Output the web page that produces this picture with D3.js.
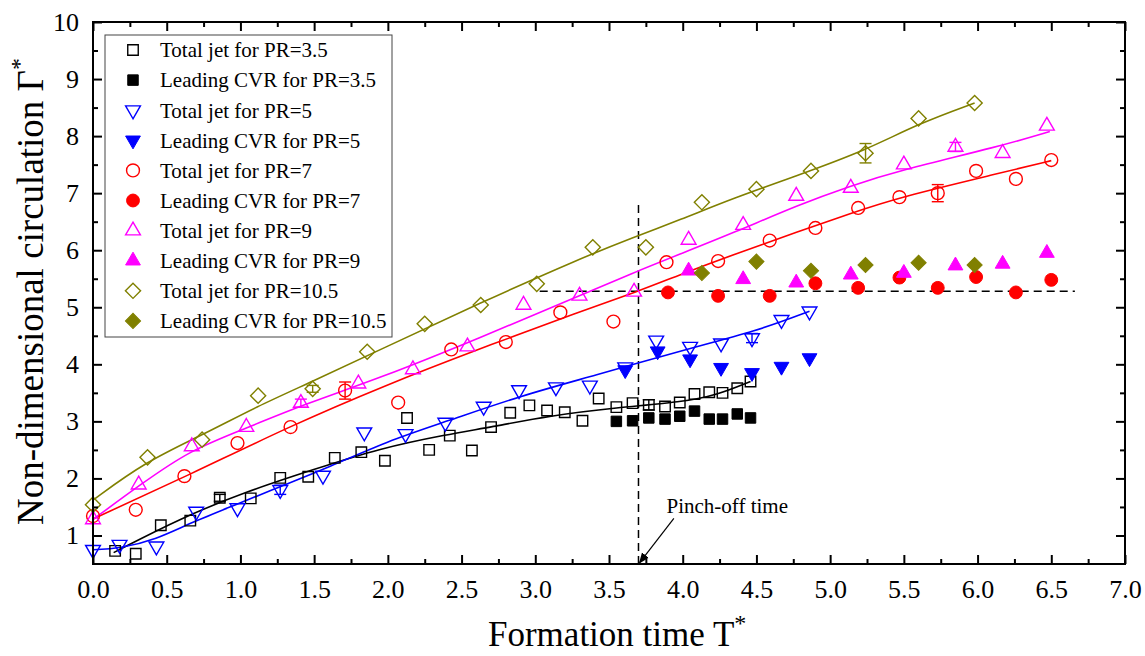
<!DOCTYPE html>
<html>
<head>
<meta charset="utf-8">
<script src="https://cdn.jsdelivr.net/npm/d3@7"></script>
<style>
body { margin: 0; background: #fff; }
text { font-family: "Liberation Serif", "Times New Roman", serif; fill: #000; }
</style>
</head>
<body>
<svg id="chart" width="1145" height="656"></svg>
<script>
// ---- data ----
var xTicks = [0, 0.5, 1, 1.5, 2, 2.5, 3, 3.5, 4, 4.5, 5, 5.5, 6, 6.5, 7];
var yTicks = [1, 2, 3, 4, 5, 6, 7, 8, 9, 10];

var total35 = [[0.15,0.73],[0.29,0.68],[0.46,1.18],[0.66,1.26],[0.86,1.66],[1.07,1.65],[1.27,2.01],[1.46,2.03],
  [1.64,2.36],[1.82,2.46],[1.98,2.31],[2.13,3.06],[2.28,2.50],[2.42,2.75],[2.57,2.49],[2.70,2.90],[2.83,3.15],
  [2.96,3.28],[3.08,3.19],[3.20,3.16],[3.32,3.01],[3.43,3.40],[3.55,3.25],[3.66,3.32],[3.77,3.29],[3.88,3.26],
  [3.98,3.33],[4.08,3.48],[4.18,3.51],[4.27,3.50],[4.37,3.58],[4.46,3.70]];
var lead35 = [[3.55,3.00],[3.66,3.01],[3.77,3.06],[3.88,3.04],[3.98,3.09],[4.08,3.18],[4.18,3.04],[4.27,3.04],[4.37,3.13],[4.46,3.06]];
var fit35 = [[0.14,0.70],[0.6,1.31],[1.04,1.77],[1.49,2.15],[1.95,2.53],[2.40,2.77],[2.70,2.90],[3.10,3.10],[3.55,3.24],[4.0,3.34],[4.23,3.46],[4.46,3.70]];

var total5 = [[0.0,0.75],[0.18,0.84],[0.43,0.81],[0.70,1.42],[0.98,1.48],[1.27,1.80],[1.56,2.05],[1.84,2.81],
  [2.12,2.78],[2.39,2.98],[2.65,3.26],[2.89,3.55],[3.14,3.60],[3.37,3.63],[3.61,3.95],[3.82,4.42],[4.05,4.31],
  [4.26,4.37],[4.47,4.46],[4.67,4.78],[4.86,4.93]];
var lead5 = [[3.61,3.90],[3.83,4.23],[4.05,4.09],[4.26,3.94],[4.47,3.85],[4.67,3.96],[4.86,4.11]];
var fit5 = [[0,0.75],[0.18,0.77],[0.43,0.93],[0.66,1.22],[1.0,1.57],[1.27,1.86],[1.56,2.15],[2.0,2.66],[2.4,3.00],[2.9,3.45],[3.4,3.80],[4.0,4.25],[4.5,4.58],[4.86,4.93]];

var total7 = [[0.0,1.34],[0.29,1.45],[0.62,2.04],[0.98,2.62],[1.34,2.90],[1.71,3.54],[2.07,3.33],[2.43,4.26],
  [2.80,4.39],[3.17,4.91],[3.53,4.75],[3.89,5.79],[4.24,5.81],[4.59,6.17],[4.90,6.39],[5.19,6.74],[5.47,6.93],
  [5.73,7.00],[5.99,7.39],[6.26,7.25],[6.50,7.58]];
var lead7 = [[3.90,5.26],[4.24,5.20],[4.59,5.20],[4.90,5.42],[5.19,5.34],[5.47,5.52],[5.73,5.34],[5.99,5.53],[6.26,5.26],[6.50,5.48]];
var fit7 = [[0,1.29],[0.66,2.07],[1.33,2.91],[1.98,3.63],[2.62,4.27],[3.30,4.92],[3.70,5.28],[3.98,5.57],[4.34,5.92],[4.79,6.33],[5.13,6.64],[5.47,6.93],[6.15,7.35],[6.50,7.57]];

var total9 = [[0.0,1.28],[0.31,1.89],[0.67,2.56],[1.04,2.90],[1.41,3.32],[1.80,3.66],[2.17,3.91],[2.54,4.31],
  [2.92,5.04],[3.30,5.20],[3.67,5.27],[4.04,6.18],[4.41,6.44],[4.77,6.95],[5.14,7.09],[5.50,7.50],[5.85,7.81],
  [6.17,7.70],[6.47,8.18]];
var lead9 = [[4.04,5.64],[4.41,5.49],[4.77,5.43],[5.14,5.57],[5.50,5.60],[5.85,5.73],[6.17,5.76],[6.47,5.95]];
var fit9 = [[0,1.28],[0.32,1.89],[0.66,2.50],[1.04,2.88],[1.42,3.29],[1.95,3.76],[2.62,4.46],[3.30,5.20],[3.66,5.60],[3.98,5.93],[4.34,6.30],[4.79,6.80],[5.13,7.12],[5.47,7.40],[6.15,7.82],[6.49,8.08]];

var total105 = [[0.0,1.54],[0.37,2.37],[0.74,2.68],[1.12,3.45],[1.49,3.57],[1.86,4.22],[2.25,4.71],[2.63,5.04],
  [3.01,5.41],[3.39,6.05],[3.75,6.05],[4.13,6.84],[4.50,7.07],[4.87,7.39],[5.24,7.70],[5.60,8.31],[5.98,8.58]];
var lead105 = [[4.13,5.60],[4.50,5.80],[4.87,5.64],[5.24,5.74],[5.60,5.78],[5.98,5.74]];
var fit105 = [[0,1.62],[0.36,2.30],[0.75,2.77],[1.11,3.26],[1.49,3.70],[1.95,4.26],[2.62,5.07],[3.30,5.85],[3.66,6.22],[3.98,6.53],[4.34,6.91],[4.79,7.32],[5.24,7.75],[5.60,8.22],[5.98,8.58]];

// error bars: [series, x, y, half-length]
var errBars = [[0,0.86,1.66,0.06],[0,3.77,3.29,0.09],[1,1.27,1.80,0.08],[1,4.47,4.46,0.08],[2,1.71,3.54,0.15],
  [2,5.73,7.00,0.15],[3,1.41,3.32,0.07],[3,5.85,7.81,0.08],[4,1.49,3.57,0.06],[4,5.24,7.70,0.17]];

var pinchX = 3.70, pinchTop = 6.82;
var plateauY = 5.28, plateauFrom = 3.03, plateauTo = 6.66;

var colors = ["#000000", "#0000ff", "#ff0000", "#ff00ff", "#808000"];
var prLabels = ["3.5", "5", "7", "9", "10.5"];
var shapes = ["square", "tridown", "circle", "triup", "diamond"];
var totals = [total35, total5, total7, total9, total105];
var leads = [lead35, lead5, lead7, lead9, lead105];
var fits = [fit35, fit5, fit7, fit9, fit105];

// ---- layout ----
var svg = d3.select("#chart");
var margin = {left: 93, top: 22, right: 20, bottom: 92};
var W = 1145 - margin.left - margin.right, H = 656 - margin.top - margin.bottom;
var x = d3.scaleLinear().domain([0, 7]).range([0, W]);
var y = d3.scaleLinear().domain([0.5, 10]).range([H, 0]);
var g = svg.append("g").attr("transform", "translate(" + margin.left + "," + margin.top + ")");

function symbolPath(shape) {
  if (shape == "square") return d3.symbol(d3.symbolSquare, 110)();
  if (shape == "circle") return d3.symbol(d3.symbolCircle, 130)();
  if (shape == "diamond") return d3.symbol(d3.symbolSquare, 115)();
  return d3.symbol(d3.symbolTriangle, 95)();
}
function symbolRot(shape) {
  if (shape == "tridown") return 180;
  if (shape == "diamond") return 45;
  return 0;
}
function drawMarker(sel, shape, color, filled) {
  sel.append("path")
    .attr("d", symbolPath(shape))
    .attr("transform", function(d) {
      return "translate(" + x(d[0]) + "," + y(d[1]) + ") rotate(" + symbolRot(shape) + ")";
    })
    .attr("fill", filled ? color : "none")
    .attr("stroke", color)
    .attr("stroke-width", filled ? 1 : 1.4);
}

// dashed guide lines
g.append("line").attr("x1", x(pinchX)).attr("x2", x(pinchX)).attr("y1", y(0.5)).attr("y2", y(pinchTop))
  .attr("stroke", "#000").attr("stroke-width", 1.5).attr("stroke-dasharray", "8,5");
g.append("line").attr("x1", x(plateauFrom)).attr("x2", x(plateauTo)).attr("y1", y(plateauY)).attr("y2", y(plateauY))
  .attr("stroke", "#000").attr("stroke-width", 1.5).attr("stroke-dasharray", "8,5");

// fit curves
var line = d3.line().x(function(d) { return x(d[0]); }).y(function(d) { return y(d[1]); }).curve(d3.curveBasis);
fits.forEach(function(f, i) {
  g.append("path").datum(f).attr("d", line).attr("fill", "none").attr("stroke", colors[i]).attr("stroke-width", 1.6);
});

// error bars
errBars.forEach(function(e) {
  var c = colors[e[0]], cx = x(e[1]);
  var eg = g.append("g").attr("stroke", c).attr("stroke-width", 1.4);
  eg.append("line").attr("x1", cx).attr("x2", cx).attr("y1", y(e[2] - e[3])).attr("y2", y(e[2] + e[3]));
  eg.append("line").attr("x1", cx - 6).attr("x2", cx + 6).attr("y1", y(e[2] - e[3])).attr("y2", y(e[2] - e[3]));
  eg.append("line").attr("x1", cx - 6).attr("x2", cx + 6).attr("y1", y(e[2] + e[3])).attr("y2", y(e[2] + e[3]));
});

// markers
totals.forEach(function(arr, i) {
  drawMarker(g.append("g").selectAll("path").data(arr).enter(), shapes[i], colors[i], false);
});
leads.forEach(function(arr, i) {
  drawMarker(g.append("g").selectAll("path").data(arr).enter(), shapes[i], colors[i], true);
});

// axes with inward ticks
var xMinor = d3.range(0.25, 7, 0.5);
var yMinor = d3.range(1.5, 10, 1);
function tickStyle(a) { a.select(".domain").remove(); a.selectAll("line").attr("stroke", "#000").attr("stroke-width", 2); }

var xb = g.append("g").attr("transform", "translate(0," + H + ")")
  .call(d3.axisBottom(x).tickValues(xTicks).tickSize(-9).tickPadding(16).tickFormat(d3.format(".1f")));
xb.call(tickStyle); xb.selectAll("text").attr("font-size", 26).attr("dy", "0.71em");
g.append("g").attr("transform", "translate(0," + H + ")")
  .call(d3.axisBottom(x).tickValues(xMinor).tickSize(-5).tickFormat("")).call(tickStyle);
g.append("g").call(d3.axisTop(x).tickValues(xTicks).tickSize(-9).tickFormat("")).call(tickStyle);
g.append("g").call(d3.axisTop(x).tickValues(xMinor).tickSize(-5).tickFormat("")).call(tickStyle);

var yl = g.append("g").call(d3.axisLeft(y).tickValues(yTicks).tickSize(-9).tickPadding(14).tickFormat(d3.format("d")));
yl.call(tickStyle); yl.selectAll("text").attr("font-size", 26);
g.append("g").call(d3.axisLeft(y).tickValues(yMinor).tickSize(-5).tickFormat("")).call(tickStyle);
g.append("g").attr("transform", "translate(" + W + ",0)")
  .call(d3.axisRight(y).tickValues(yTicks).tickSize(-9).tickFormat("")).call(tickStyle);
g.append("g").attr("transform", "translate(" + W + ",0)")
  .call(d3.axisRight(y).tickValues(yMinor).tickSize(-5).tickFormat("")).call(tickStyle);

g.append("rect").attr("width", W).attr("height", H).attr("fill", "none").attr("stroke", "#000").attr("stroke-width", 2);

// pinch-off annotation
svg.append("defs").append("marker").attr("id", "arrow").attr("viewBox", "0 0 10 10")
  .attr("refX", 9).attr("refY", 5).attr("markerWidth", 9).attr("markerHeight", 9).attr("orient", "auto")
  .append("path").attr("d", "M0,1L10,5L0,9z").attr("fill", "#000");
g.append("line").attr("x1", x(3.94)).attr("y1", y(1.30)).attr("x2", x(pinchX) + 1).attr("y2", y(0.52))
  .attr("stroke", "#000").attr("stroke-width", 1.2).attr("marker-end", "url(#arrow)");
g.append("text").attr("x", x(3.89)).attr("y", y(1.40)).attr("font-size", 21).text("Pinch-off time");

// legend
var lg = g.append("g").attr("transform", "translate(12,13)");
lg.append("rect").attr("width", 287).attr("height", 302).attr("fill", "#fff").attr("stroke", "#444").attr("stroke-width", 1);
var legendRows = [];
prLabels.forEach(function(p, i) {
  legendRows.push({label: "Total jet for PR=" + p, shape: shapes[i], color: colors[i], filled: false});
  legendRows.push({label: "Leading CVR for PR=" + p, shape: shapes[i], color: colors[i], filled: true});
});
legendRows.forEach(function(r, i) {
  var ry = 15 + i * 30.1;
  lg.append("path").attr("d", symbolPath(r.shape))
    .attr("transform", "translate(28," + ry + ") rotate(" + symbolRot(r.shape) + ")")
    .attr("fill", r.filled ? r.color : "none").attr("stroke", r.color).attr("stroke-width", r.filled ? 1 : 1.4);
  lg.append("text").attr("x", 55).attr("y", ry).attr("dy", "0.35em").attr("font-size", 21).text(r.label);
});

// axis titles
svg.append("text").attr("x", 488).attr("y", 646).attr("font-size", 35)
  .text("Formation time T").append("tspan").attr("font-size", 24).attr("dy", -15).text("*");
svg.append("text").attr("transform", "translate(43,525) rotate(-90)").attr("font-size", 37)
  .text("Non-dimensional circulation \u0393").append("tspan").attr("font-size", 24).attr("dy", -16).text("*");
</script>
</body>
</html>
